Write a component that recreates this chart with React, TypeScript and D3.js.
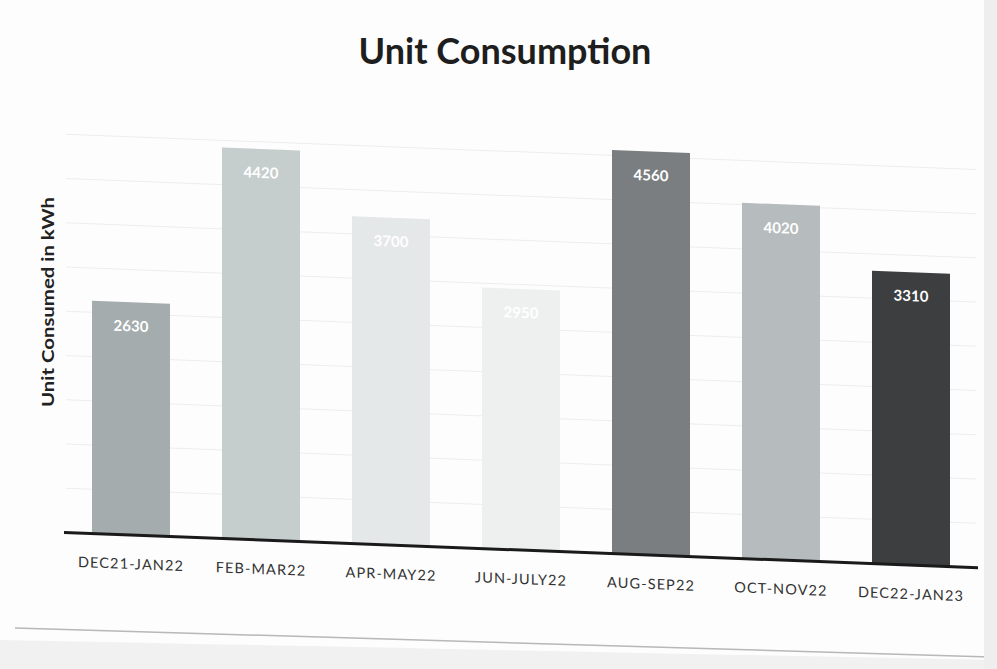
import React from "react";
import * as d3 from "d3";

const categories = ["DEC21-JAN22", "FEB-MAR22", "APR-MAY22", "JUN-JULY22", "AUG-SEP22", "OCT-NOV22", "DEC22-JAN23"];
const values = [2630, 4420, 3700, 2950, 4560, 4020, 3310];
const barColors = ["#a4acad", "#c6cdcd", "#e5e8e8", "#eef0f0", "#7a7e80", "#b6bcbe", "#3c3e3f"];
const gridTicks = [500, 1000, 1500, 2000, 2500, 3000, 3500, 4000, 4500];

const W = 997;
const H = 669;
const FONT = "Lato, 'Open Sans', 'Liberation Sans', sans-serif";

export default function App() {
  const x = d3.scaleBand<string>().domain(categories).range([66, 976]).paddingInner(0.4).paddingOuter(0.2);
  const y = d3.scaleLinear().domain([0, 4560]).range([530, 126.5]);
  const skew = (Math.atan(0.0385) * 180) / Math.PI;

  return (
    <svg width={W} height={H} style={{ position: "absolute", left: 0, top: 0, background: "#ffffff" }}>
      <rect x={0} y={0} width={W} height={H} fill="#fdfdfd" />
      {/* paper edge */}
      <path d="M0,640 L0,669 L997,669 L997,660 Q600,652 0,640 Z" fill="#f1f1f1" />
      <path d="M15,628 Q400,640 990,657" stroke="#9a9a9a" strokeWidth={1.5} fill="none" opacity={0.7} />
      <rect x={984} y={0} width={13} height={669} fill="#eeeeee" />

      <text x={505} y={64} textAnchor="middle" fontFamily={FONT} fontWeight={700} fontSize={36} fill="#1e1e1e">
        Unit Consumption
      </text>

      <text
        transform="translate(54,302) rotate(-90)"
        textAnchor="middle"
        fontFamily={FONT}
        fontWeight={700}
        fontSize={17}
        textLength={210}
        lengthAdjust="spacingAndGlyphs"
        fill="#222"
      >
        Unit Consumed in kWh
      </text>

      <g transform={`skewY(${skew})`}>
        {gridTicks.map((t) => (
          <line key={t} x1={66} x2={976} y1={y(t)} y2={y(t)} stroke="#ededed" strokeWidth={1} />
        ))}
        {categories.map((c, i) => (
          <rect key={c} x={x(c)} y={y(values[i])} width={x.bandwidth()} height={y(0) - y(values[i])} fill={barColors[i]} />
        ))}
        {categories.map((c, i) => (
          <text
            key={"v" + c}
            x={(x(c) as number) + x.bandwidth() / 2}
            y={y(values[i]) + 29}
            textAnchor="middle"
            fontFamily={FONT}
            fontWeight={700}
            fontSize={15}
            fill="#ffffff"
          >
            {values[i]}
          </text>
        ))}
        <line x1={64} x2={978} y1={y(0)} y2={y(0)} stroke="#1a1a1a" strokeWidth={3} />
        {categories.map((c) => (
          <text
            key={"l" + c}
            x={(x(c) as number) + x.bandwidth() / 2}
            y={y(0) + 34}
            textAnchor="middle"
            fontFamily={FONT}
            fontSize={14.5}
            letterSpacing={1.1}
            fill="#333"
          >
            {c}
          </text>
        ))}
      </g>
    </svg>
  );
}
